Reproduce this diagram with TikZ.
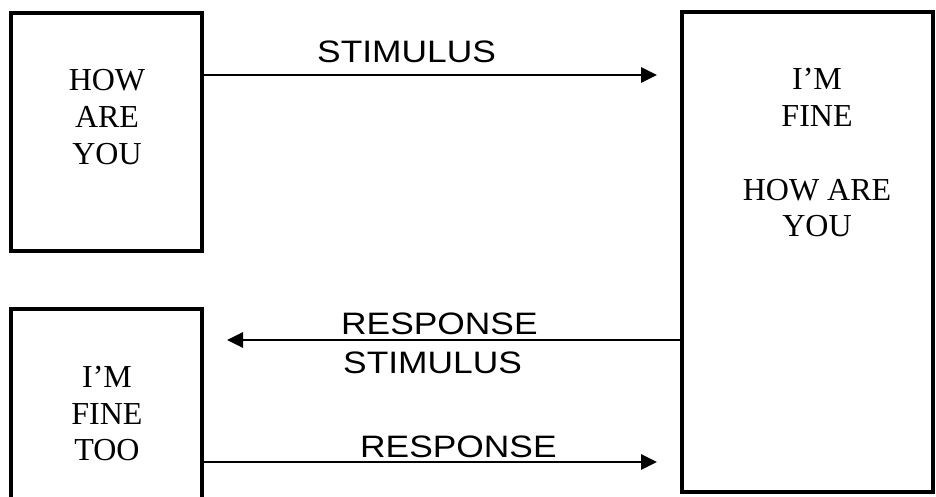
\documentclass[tikz,border=0pt]{standalone}
\usepackage{fontspec}
\setmainfont{Liberation Serif}
\newfontfamily\labelfont{Liberation Sans}
\usetikzlibrary{arrows.meta}

\tikzset{
  box/.style={draw, line width=3.2pt, inner sep=0pt, outer sep=0pt},
  speech/.style={inner sep=0pt, align=center, anchor=north,
    font=\fontsize{32}{36.7}\selectfont},
  arr/.style={line width=2.8pt, -{Triangle[length=16pt,width=15pt]}},
  tag/.style={inner sep=0pt, anchor=base west,
    font=\labelfont\fontsize{31}{31}\selectfont},
}
\newcommand{\widetag}[1]{\scalebox{1.14}[1]{#1}}

\begin{document}
\begin{tikzpicture}[x=1pt, y=-1pt]
  \useasboundingbox (0,0) rectangle (936,496);
  \clip (0,0) rectangle (936,496);

  % the three boxes
  \node[box, minimum width=191pt, minimum height=238pt] (ask) at (106.5,132) {};
  \node[box, minimum width=191pt, minimum height=200pt] (reply) at (106.5,409) {};
  \node[box, minimum width=251pt, minimum height=480pt] (answer) at (807.5,252) {};

  % what is said in each box
  \node[speech] (askT) at (107,69.5) {HOW\\ARE\\YOU};
  \node[speech] (answerT) at (817,68.5) {I’M\\FINE\\\mbox{}\\HOW ARE\\YOU};
  \node[speech] (replyT) at (107,366) {I’M\\FINE\\TOO};

  % arrow ends
  \coordinate (e1) at (657,75);
  \coordinate (e2) at (227,340);
  \coordinate (e3) at (657,462);

  \draw[arr] (ask.east |- e1) -- (e1);
  \draw[arr] (answer.west |- e2) -- (e2);
  \draw[arr] (reply.east |- e3) -- (e3);

  % connector labels
  \node[tag] (l1) at (317,62) {\widetag{STIMULUS}};
  \node[tag] (l2) at (341,334) {\widetag{RESPONSE}};
  \node[tag] (l3) at (343,373) {\widetag{STIMULUS}};
  \node[tag] (l4) at (360,457) {\widetag{RESPONSE}};
\end{tikzpicture}
\end{document}
